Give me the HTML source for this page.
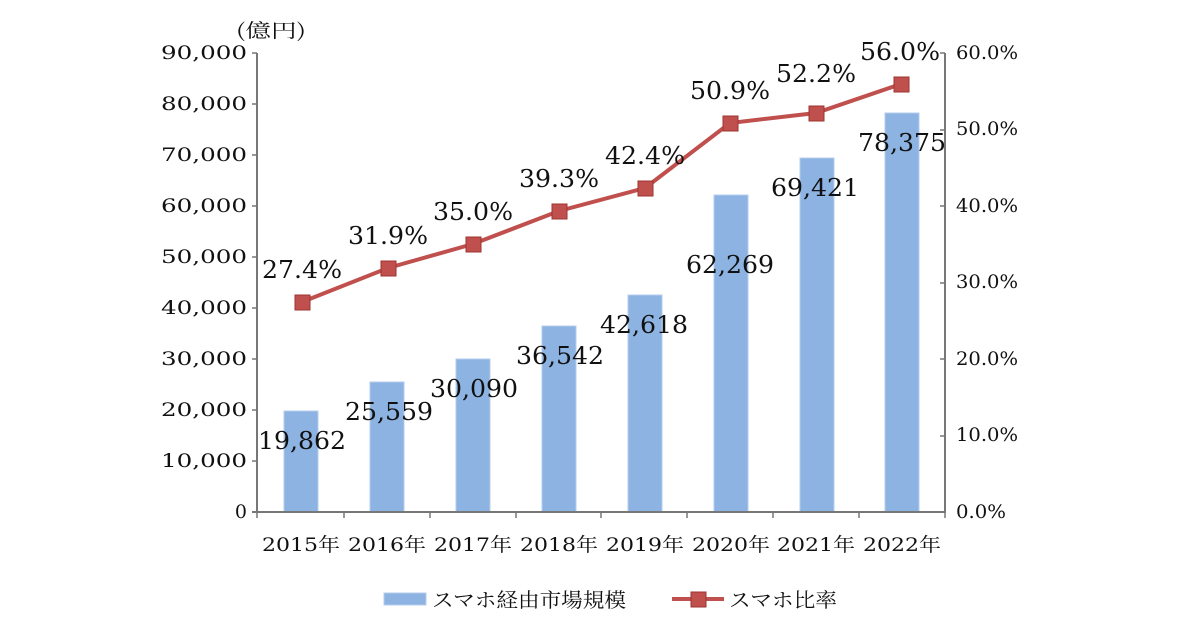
<!DOCTYPE html>
<html><head><meta charset="utf-8"><style>
html,body{margin:0;padding:0;background:#fff;}
svg text{font-family:"DejaVu Serif","Noto Serif CJK SC",serif;fill:#111;}
.cj{font-family:"Noto Serif CJK SC",serif;}
</style></head><body>
<svg width="1200" height="630" xmlns="http://www.w3.org/2000/svg">
<rect width="1200" height="630" fill="#fff"/>
<text x="236" y="37" font-size="19" class="cj" textLength="70" lengthAdjust="spacingAndGlyphs">(億円)</text>
<g font-size="19" text-anchor="end">
<text x="247" y="518">0</text>
<text x="247" y="467" textLength="86" lengthAdjust="spacingAndGlyphs">10,000</text>
<text x="247" y="416" textLength="86" lengthAdjust="spacingAndGlyphs">20,000</text>
<text x="247" y="365" textLength="86" lengthAdjust="spacingAndGlyphs">30,000</text>
<text x="247" y="314" textLength="86" lengthAdjust="spacingAndGlyphs">40,000</text>
<text x="247" y="263" textLength="86" lengthAdjust="spacingAndGlyphs">50,000</text>
<text x="247" y="212" textLength="86" lengthAdjust="spacingAndGlyphs">60,000</text>
<text x="247" y="161" textLength="86" lengthAdjust="spacingAndGlyphs">70,000</text>
<text x="247" y="110" textLength="86" lengthAdjust="spacingAndGlyphs">80,000</text>
<text x="247" y="59" textLength="86" lengthAdjust="spacingAndGlyphs">90,000</text>
</g>
<g font-size="19">
<text x="956" y="518" textLength="50" lengthAdjust="spacingAndGlyphs">0.0%</text>
<text x="956" y="441" textLength="62" lengthAdjust="spacingAndGlyphs">10.0%</text>
<text x="956" y="365" textLength="62" lengthAdjust="spacingAndGlyphs">20.0%</text>
<text x="956" y="288" textLength="62" lengthAdjust="spacingAndGlyphs">30.0%</text>
<text x="956" y="212" textLength="62" lengthAdjust="spacingAndGlyphs">40.0%</text>
<text x="956" y="135" textLength="62" lengthAdjust="spacingAndGlyphs">50.0%</text>
<text x="956" y="59" textLength="62" lengthAdjust="spacingAndGlyphs">60.0%</text>
</g>
<g fill="#8db3e2" stroke="#b4cdec" stroke-width="1">
<rect x="284" y="411" width="34" height="101"/>
<rect x="370" y="382" width="34" height="130"/>
<rect x="456" y="359" width="34" height="153"/>
<rect x="542" y="326" width="34" height="186"/>
<rect x="628" y="295" width="34" height="217"/>
<rect x="714" y="195" width="34" height="317"/>
<rect x="800" y="158" width="34" height="354"/>
<rect x="885" y="113" width="34" height="399"/>
</g>
<g stroke="#777" stroke-width="2" fill="none">
<line x1="257" y1="53" x2="257" y2="513"/>
<line x1="945" y1="53" x2="945" y2="513"/>
<line x1="252" y1="512" x2="945" y2="512"/>
</g>
<g stroke="#777" stroke-width="1.5">
<line x1="252" y1="53" x2="257" y2="53"/><line x1="252" y1="104" x2="257" y2="104"/>
<line x1="252" y1="155" x2="257" y2="155"/><line x1="252" y1="206" x2="257" y2="206"/>
<line x1="252" y1="257" x2="257" y2="257"/><line x1="252" y1="308" x2="257" y2="308"/>
<line x1="252" y1="359" x2="257" y2="359"/><line x1="252" y1="410" x2="257" y2="410"/>
<line x1="252" y1="461" x2="257" y2="461"/>
<line x1="940" y1="53" x2="945" y2="53"/><line x1="940" y1="130" x2="945" y2="130"/>
<line x1="940" y1="206" x2="945" y2="206"/><line x1="940" y1="283" x2="945" y2="283"/>
<line x1="940" y1="359" x2="945" y2="359"/><line x1="940" y1="436" x2="945" y2="436"/>
<line x1="257" y1="512" x2="257" y2="518"/><line x1="344" y1="512" x2="344" y2="518"/>
<line x1="430" y1="512" x2="430" y2="518"/><line x1="516" y1="512" x2="516" y2="518"/>
<line x1="601" y1="512" x2="601" y2="518"/><line x1="687" y1="512" x2="687" y2="518"/>
<line x1="773" y1="512" x2="773" y2="518"/><line x1="859" y1="512" x2="859" y2="518"/>
<line x1="945" y1="512" x2="945" y2="518"/>
</g>
<polyline fill="none" stroke="#c0504d" stroke-width="4" points="302,302 388,268 473,244 559,211 645,188 730,123 816,113 901,84"/>
<g fill="#c0504d" stroke="#9e3431" stroke-width="1">
<rect x="295" y="295" width="15" height="15"/>
<rect x="381" y="261" width="15" height="15"/>
<rect x="466" y="237" width="15" height="15"/>
<rect x="552" y="204" width="15" height="15"/>
<rect x="638" y="181" width="15" height="15"/>
<rect x="723" y="116" width="15" height="15"/>
<rect x="809" y="106" width="15" height="15"/>
<rect x="894" y="77" width="15" height="15"/>
</g>
<g font-size="24" text-anchor="middle">
<text x="302" y="449" textLength="88" lengthAdjust="spacingAndGlyphs">19,862</text>
<text x="389" y="420" textLength="88" lengthAdjust="spacingAndGlyphs">25,559</text>
<text x="474" y="397" textLength="88" lengthAdjust="spacingAndGlyphs">30,090</text>
<text x="560" y="364" textLength="88" lengthAdjust="spacingAndGlyphs">36,542</text>
<text x="644" y="333" textLength="88" lengthAdjust="spacingAndGlyphs">42,618</text>
<text x="730" y="273" textLength="88" lengthAdjust="spacingAndGlyphs">62,269</text>
<text x="815" y="196" textLength="88" lengthAdjust="spacingAndGlyphs">69,421</text>
<text x="902" y="151" textLength="88" lengthAdjust="spacingAndGlyphs">78,375</text>
<text x="302" y="278" textLength="80" lengthAdjust="spacingAndGlyphs">27.4%</text>
<text x="388" y="244" textLength="80" lengthAdjust="spacingAndGlyphs">31.9%</text>
<text x="473" y="220" textLength="80" lengthAdjust="spacingAndGlyphs">35.0%</text>
<text x="559" y="187" textLength="80" lengthAdjust="spacingAndGlyphs">39.3%</text>
<text x="645" y="164" textLength="80" lengthAdjust="spacingAndGlyphs">42.4%</text>
<text x="730" y="99" textLength="80" lengthAdjust="spacingAndGlyphs">50.9%</text>
<text x="816" y="82" textLength="80" lengthAdjust="spacingAndGlyphs">52.2%</text>
<text x="900" y="60" textLength="80" lengthAdjust="spacingAndGlyphs">56.0%</text>
</g>
<g font-size="19" text-anchor="middle">
<text x="301" y="551" textLength="78" lengthAdjust="spacingAndGlyphs">2015年</text>
<text x="387" y="551" textLength="78" lengthAdjust="spacingAndGlyphs">2016年</text>
<text x="473" y="551" textLength="78" lengthAdjust="spacingAndGlyphs">2017年</text>
<text x="559" y="551" textLength="78" lengthAdjust="spacingAndGlyphs">2018年</text>
<text x="645" y="551" textLength="78" lengthAdjust="spacingAndGlyphs">2019年</text>
<text x="731" y="551" textLength="78" lengthAdjust="spacingAndGlyphs">2020年</text>
<text x="816" y="551" textLength="78" lengthAdjust="spacingAndGlyphs">2021年</text>
<text x="902" y="551" textLength="78" lengthAdjust="spacingAndGlyphs">2022年</text>
</g>
<rect x="384" y="593" width="42" height="12" fill="#8db3e2" stroke="#b4cdec"/>
<text x="432" y="607" font-size="20" class="cj" textLength="194" lengthAdjust="spacingAndGlyphs">スマホ経由市場規模</text>
<line x1="672" y1="599" x2="724" y2="599" stroke="#c0504d" stroke-width="4"/>
<rect x="691" y="592" width="15" height="15" fill="#c0504d" stroke="#9e3431"/>
<text x="729" y="607" font-size="20" class="cj" textLength="108" lengthAdjust="spacingAndGlyphs">スマホ比率</text>
</svg>
</body></html>
